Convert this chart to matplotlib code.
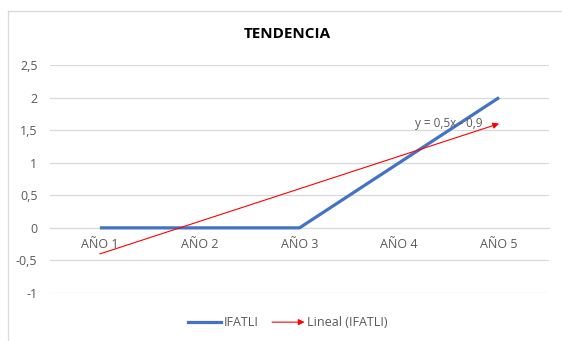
import numpy as np
import matplotlib
matplotlib.use("Agg")
import matplotlib.pyplot as plt
from matplotlib.lines import Line2D
from matplotlib.patches import FancyArrowPatch
from matplotlib.legend_handler import HandlerBase

plt.rcParams['font.family'] = ['Open Sans', 'DejaVu Sans']

categories = ["AÑO 1", "AÑO 2", "AÑO 3", "AÑO 4", "AÑO 5"]
ifatli = [0, 0, 0, 1, 2]
y_ticks = [-1, -0.5, 0, 0.5, 1, 1.5, 2, 2.5]
y_tick_labels = ["-1", "-0,5", "0", "0,5", "1", "1,5", "2", "2,5"]

BLUE = "#4472C4"
RED = "#FF0000"
GRID = "#D9D9D9"
TXT = "#595959"

fig = plt.figure(figsize=(5.62, 3.41), dpi=100)
ax = fig.add_axes([50 / 562, 1 - 293 / 341, 499 / 562, 228 / 341])

x = np.arange(1, len(categories) + 1)
ax.plot(x, ifatli, color=BLUE, lw=2.3, solid_capstyle='butt', zorder=3)

# linear trendline (least squares)
slope, intercept = np.polyfit(x, ifatli, 1)
x0, x1 = x[0], x[-1]
arrow = FancyArrowPatch((x0, slope * x0 + intercept), (x1, slope * x1 + intercept),
                        arrowstyle='-|>', mutation_scale=9, color=RED, lw=0.8,
                        shrinkA=0, shrinkB=0, zorder=4)
ax.add_patch(arrow)

def fmt(v):
    return f"{abs(v):g}".replace(".", ",")

sign = "-" if intercept < 0 else "+"
ax.text(4.5, 1.6, f"y = {fmt(slope)}x {sign} {fmt(intercept)}", ha='center', va='center',
        fontsize=8.5, color=TXT, zorder=5)

ax.set_xlim(0.5, len(categories) + 0.5)
ax.set_ylim(-1, 2.5)
ax.set_yticks(y_ticks)
ax.set_yticklabels(y_tick_labels)
ax.set_xticks(x)
ax.set_xticklabels(categories)
ax.grid(axis='y', color=GRID, lw=0.9)
ax.set_axisbelow(True)
for s in ['top', 'right', 'left']:
    ax.spines[s].set_visible(False)
ax.spines['bottom'].set_position(('data', 0))
ax.spines['bottom'].set_color(GRID)
ax.spines['bottom'].set_zorder(1)
ax.tick_params(axis='both', length=0, labelsize=9, labelcolor=TXT)
ax.tick_params(axis='x', pad=7)
ax.tick_params(axis='y', pad=9)

fig.text(287 / 562, 1 - 34 / 341, "TENDENCIA", ha='center', va='center',
         fontsize=11, fontweight='bold', color='black')

# chart frame
fig.add_artist(Line2D([8 / 562, 8 / 562], [0, 1 - 11 / 341], transform=fig.transFigure,
                      color=GRID, lw=0.9))
fig.add_artist(Line2D([8 / 562, 1], [1 - 11 / 341, 1 - 11 / 341], transform=fig.transFigure,
                      color=GRID, lw=0.9))


class ArrowHandler(HandlerBase):
    def create_artists(self, legend, orig_handle, xdescent, ydescent, width, height,
                       fontsize, trans):
        yc = height / 2 - ydescent
        a = FancyArrowPatch((-xdescent, yc), (-xdescent + width, yc), arrowstyle='-|>',
                            mutation_scale=9, color=RED, lw=0.8, shrinkA=0, shrinkB=0,
                            transform=trans)
        return [a]


trend_handle = Line2D([], [], color=RED)
blue_handle = Line2D([], [], color=BLUE, lw=2.3)
fig.legend([blue_handle, trend_handle], ["IFATLI", "Lineal (IFATLI)"],
           handler_map={trend_handle: ArrowHandler()},
           loc='center', bbox_to_anchor=(288 / 562, 1 - 323 / 341), ncol=2, frameon=False,
           fontsize=9, labelcolor=TXT, handlelength=2.6, handletextpad=0.2,
           columnspacing=1.1)

fig.savefig("out.png", dpi=100)
